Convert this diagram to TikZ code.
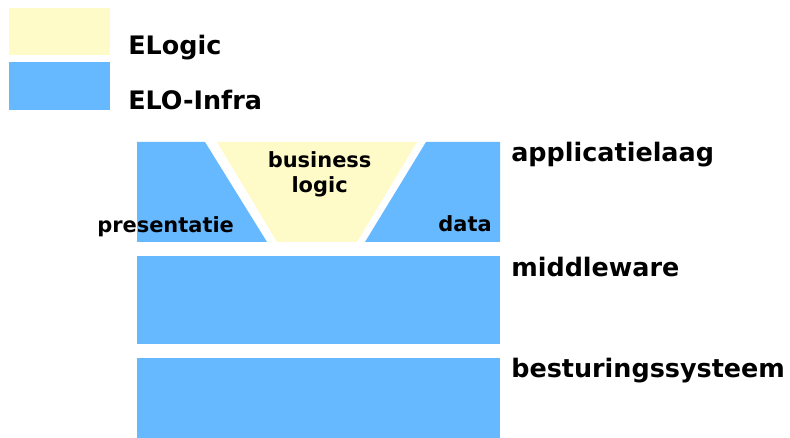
\documentclass[tikz,border=0pt]{standalone}
\usepackage{fontspec}
\setmainfont{DejaVu Sans}
\usetikzlibrary{positioning}

\definecolor{elogic}{RGB}{255,251,200}
\definecolor{eloinfra}{RGB}{102,184,255}

\tikzset{
    big/.style={inner sep=0pt, anchor=base west, font=\bfseries\fontsize{18.1}{22}\selectfont},
    small/.style={inner sep=0pt, font=\bfseries\fontsize{14.9}{17.8}\selectfont}
}

\begin{document}
\begin{tikzpicture}
    \useasboundingbox (0,0) rectangle (19.75,10.95);

    % legende
    \fill[elogic] (0.225,9.575) rectangle (2.75,10.75);
    \fill[eloinfra] (0.225,8.2) rectangle (2.75,9.4);
    \node[big] (EL) at (3.2,9.575) {ELogic};
    \node[big] (EI) at (3.2,8.2) {ELO-Infra};

    % applicatielaag
    \fill[eloinfra] (3.425,7.4) -- (5.125,7.4) -- (6.675,4.9) -- (3.425,4.9) -- cycle;
    \fill[elogic] (5.425,7.4) -- (10.425,7.4) -- (8.925,4.9) -- (6.925,4.9) -- cycle;
    \fill[eloinfra] (10.65,7.4) -- (12.5,7.4) -- (12.5,4.9) -- (9.125,4.9) -- cycle;

    % middleware en besturingssysteem
    \fill[eloinfra] (3.425,2.35) rectangle (12.5,4.55);
    \fill[eloinfra] (3.425,0) rectangle (12.5,2.0);

    \node[small, anchor=base west] (P) at (2.425,5.125) {presentatie};
    \node[small, anchor=base east] (D) at (12.3,5.15) {data};
    \node[small, anchor=base, align=center] (B) at (7.99,6.125) {business\\logic};

    \node[big] (A) at (12.775,6.9) {applicatielaag};
    \node[big] (M) at (12.775,4.025) {middleware};
    \node[big] (S) at (12.775,1.5) {besturingssysteem};
\end{tikzpicture}
\end{document}
